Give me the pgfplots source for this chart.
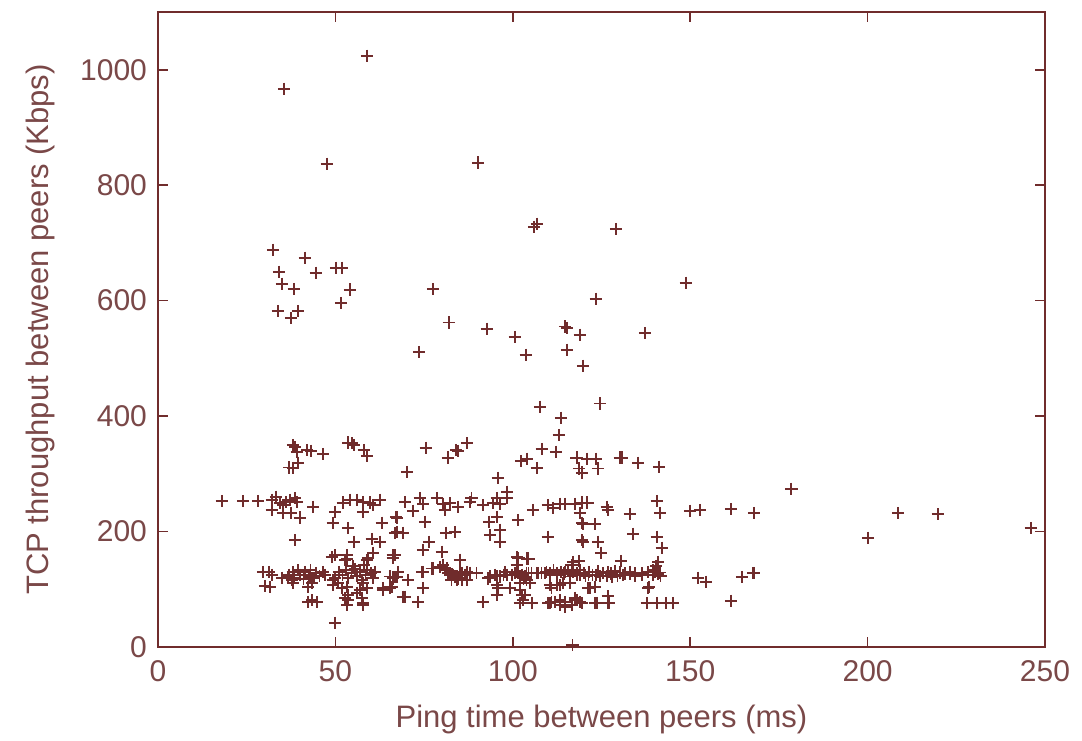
\documentclass[border=0pt]{standalone}
\usepackage{fontspec}
\setmainfont{Liberation Sans}
\usepackage{pgfplots}
\pgfplotsset{compat=1.18}
\definecolor{pt}{RGB}{112,44,44}
\definecolor{tx}{RGB}{122,72,72}
\begin{document}
\begin{tikzpicture}
\begin{axis}[
  scale only axis,
  width=443.5pt, height=317.5pt,
  xmin=0, xmax=250, ymin=0, ymax=1100,
  xtick={0,50,100,150,200,250},
  ytick={0,200,400,600,800,1000},
  tick align=inside,
  major tick length=5pt,
  axis line style={pt, line width=0.8pt},
  every tick/.style={pt, line width=0.8pt},
  tick label style={font=\fontsize{15}{18}\selectfont, text=tx},
  label style={font=\fontsize{15.5}{18}\selectfont, text=tx},
  /pgf/number format/assume math mode=true,
  /pgf/number format/1000 sep={},
  xticklabel style={yshift=-3pt},
  yticklabel style={xshift=-2pt},
  xlabel={Ping time between peers (ms)},
  ylabel={TCP throughput between peers (Kbps)},
  xlabel style={yshift=-5pt},
  ylabel style={yshift=6pt},
  clip=false,
]
\addplot[only marks, mark=+, mark size=3.1pt, pt, line width=0.85pt] table {
x y
58.9 1024
35.5 967
47.6 837
90.2 839
106.0 728
106.8 733
129.1 724
148.8 631
123.4 603
32.4 688
41.4 674
34.1 650
44.5 648
50.2 657
51.9 657
34.9 629
38.3 620
54.1 619
51.6 596
33.8 582
39.5 582
37.5 570
77.5 620
82.0 562
92.7 551
73.6 511
100.6 537
103.7 506
114.7 555
115.3 553
118.9 541
115.3 515
119.8 487
137.3 544
38.1 350
38.6 346
39.1 338
39.5 319
37.0 311
38.1 310
42.0 341
43.1 340
46.5 334
53.6 354
54.7 353
55.2 350
58.0 341
58.9 331
70.2 303
75.5 345
81.7 328
84.0 341
84.6 340
87.1 353
95.8 293
107.7 416
124.6 422
113.6 397
113.0 367
108.2 343
112.2 338
102.3 322
104.0 326
106.8 310
118.0 328
121.0 326
123.4 326
118.7 309
119.5 302
124.0 309
130.2 328
130.8 328
135.3 319
141.2 312
178.5 274
168.0 232
168.0 128
200.1 189
208.6 232
219.8 230
246.0 206
140.6 253
141.5 232
133.0 230
150.0 236
152.8 237
161.5 239
119.5 250
121.0 250
126.5 243
126.8 237
119.8 213
123.2 213
133.9 196
140.6 191
142.0 172
119.8 182
124.0 182
124.9 163
130.5 149
141.0 147
140.4 140
139.5 133
119.0 125
120.5 123
123.5 125
124.5 123
126.5 123
128.0 121
129.5 123
131.0 125
133.0 127
134.5 123
136.5 125
139.5 125
141.0 127
141.6 123
152.2 120
154.5 113
164.6 121
167.7 128
121.8 102
138.4 104
126.8 88
127.1 76
123.7 76
137.8 76
140.6 76
143.2 76
145.2 76
161.5 80
119.0 78
109.5 130
110.5 127
111.5 133
112.5 125
113.5 130
114.5 127
115.5 133
116.0 122
117.0 130
118.0 127
119.0 133
120.0 128
121.5 130
122.5 125
124.0 131
125.5 128
126.8 130
127.7 127
128.8 132
130.2 129
131.6 127
133.0 130
134.4 128
136.4 127
138.1 130
140.1 131
141.5 129
110.5 107
113.3 107
116.1 111
121.2 102
123.2 104
110.9 78
111.8 78
113.3 81
114.7 78
117.5 85
118.0 81
123.2 76
126.8 76
138.1 102
98.4 269
69.6 251
71.9 236
73.8 258
74.7 248
78.6 258
80.3 248
80.9 237
82.3 249
84.6 243
87.9 251
88.4 258
91.6 246
94.4 249
95.5 258
96.4 248
98.3 258
105.7 237
109.9 246
111.3 241
113.3 248
114.7 248
117.5 248
118.9 232
119.5 215
119.5 185
67.1 225
75.3 217
93.3 217
95.5 225
101.5 220
66.8 198
69.1 198
81.2 198
83.7 199
93.6 194
96.4 203
96.4 182
109.9 191
76.4 182
74.7 168
66.8 159
80.0 165
85.1 151
101.2 156
104.0 153
117.0 147
118.7 149
65.4 122
66.3 119
67.7 130
74.7 130
77.6 136
80.4 142
81.4 136
82.3 128
83.2 125
84.2 122
85.1 130
86.5 125
87.9 128
89.8 128
93.6 122
95.5 122
97.8 130
101.1 130
102.0 122
103.0 119
103.9 128
105.3 128
107.2 128
109.1 128
110.5 125
112.4 128
114.7 130
116.6 142
118.0 125
119.9 128
121.3 125
70.5 116
74.7 102
65.4 104
84.3 116
87.1 116
95.5 107
95.5 90
99.2 102
102.0 99
102.6 90
102.9 81
104.8 111
110.9 102
112.4 107
114.1 111
110.5 76
113.3 73
114.7 69
116.7 73
117.5 81
119.5 76
69.6 87
73.3 78
91.6 78
102.0 76
105.4 76
110.0 76
79.5 139
80.9 133
81.8 128
82.7 125
83.7 122
84.6 119
85.6 128
87.0 130
88.0 128
82.7 116
84.2 116
85.6 116
77.2 136
74.4 130
93.1 119
95.0 125
96.4 122
97.4 125
98.3 125
99.7 125
100.6 128
101.6 130
102.5 125
103.4 122
104.4 128
106.7 128
108.1 128
95.9 102
99.2 102
102.0 111
103.9 116
101.6 154
104.4 153
101.1 142
103.4 90
18.0 253
24.0 253
28.2 253
32.1 255
33.3 260
34.4 250
35.2 246
36.1 251
37.2 255
38.6 258
39.2 251
32.1 237
35.2 232
37.5 232
40.0 224
43.7 243
38.6 185
49.9 159
53.3 153
49.9 234
49.3 215
52.1 250
54.1 255
56.1 255
57.8 251
57.8 234
59.8 250
60.6 246
62.6 255
53.6 206
55.2 182
60.3 187
62.6 182
63.1 215
60.6 163
58.9 151
66.2 159
67.4 199
67.4 224
49.0 156
52.7 151
53.3 159
59.2 154
66.2 154
29.6 130
31.3 130
32.1 125
30.2 106
31.6 104
35.0 120
36.6 121
37.0 125
38.0 130
38.5 120
39.5 133
40.0 125
41.0 118
41.5 130
42.5 125
43.0 133
44.0 120
44.5 128
45.5 123
46.5 130
47.0 125
37.8 116
38.0 111
42.8 121
43.4 111
42.3 104
43.4 81
44.8 78
42.3 78
49.3 107
49.9 120
51.0 130
52.0 125
53.0 133
53.5 120
54.5 128
55.5 135
56.0 123
57.0 130
57.5 116
58.5 125
59.0 133
60.0 128
60.5 120
61.2 130
55.0 140
58.0 142
49.3 116
50.7 111
51.9 102
53.3 104
53.6 90
56.1 94
56.9 99
57.8 111
58.9 102
52.7 85
57.5 85
53.3 73
57.8 73
53.6 81
57.8 76
49.9 42
63.4 99
66.0 104
66.8 121
66.2 120
67.4 121
63.4 102
65.4 102
69.0 87
116.8 3
};
\coordinate (ll) at (rel axis cs:0,0);
\coordinate (ur) at (rel axis cs:1,1);
\end{axis}
\path (ll) ++(-79pt,-46.5pt) coordinate (a);
\path (ur) ++(18.5pt,6pt) coordinate (b);
\path (a) rectangle (b);
\end{tikzpicture}
\end{document}
